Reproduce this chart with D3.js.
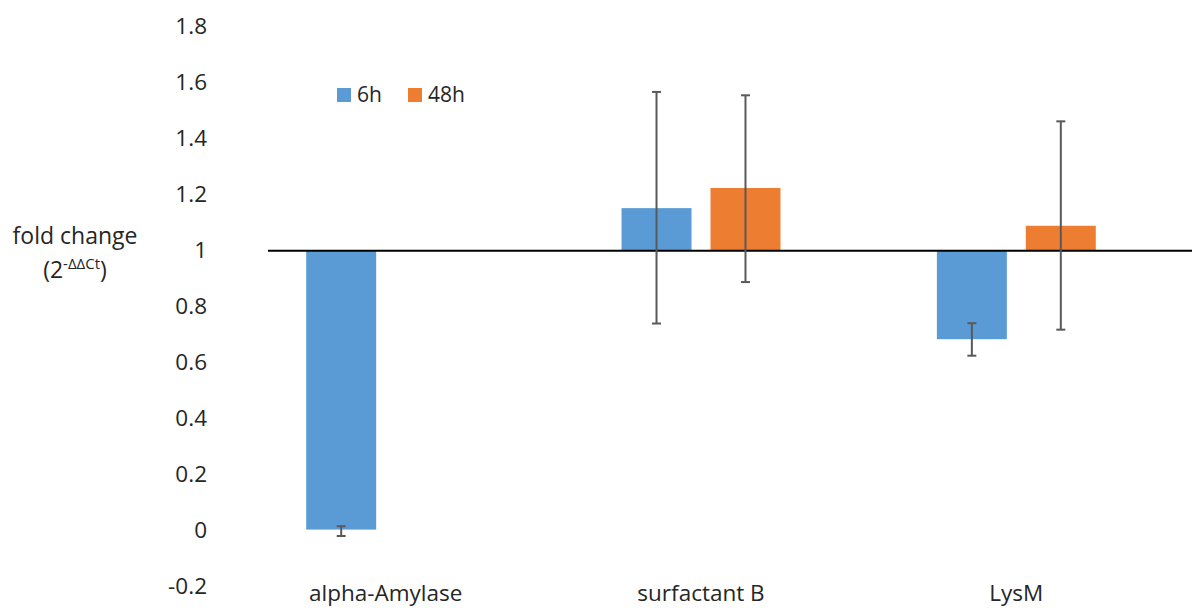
<!DOCTYPE html>
<html lang="en">
<head>
    <meta charset="UTF-8">
    <title>Fold change bar chart</title>
    <script src="https://d3js.org/d3.v7.min.js"></script>
    <style>
        body { margin: 0; background: #fff; }
        svg { display: block; }
        text { font-family: "Open Sans", sans-serif; fill: #262626; }
    </style>
</head>
<body>
    <div id="chart"></div>

    <script>
        // data
        const genes = ["alpha-Amylase", "surfactant B", "LysM"];
        const series = ["6h", "48h"];
        const values6h = [0.004, 1.152, 0.684];
        const values48h = [null, 1.224, 1.089];
        const errLow6h = [-0.019, 0.74, 0.625];
        const errHigh6h = [0.016, 1.567, 0.741];
        const errLow48h = [null, 0.888, 0.718];
        const errHigh48h = [null, 1.555, 1.462];
        const yTicks = [-0.2, 0, 0.2, 0.4, 0.6, 0.8, 1, 1.2, 1.4, 1.6, 1.8];

        const width = 1192;
        const height = 610;
        const colors = { "6h": "#5B9BD5", "48h": "#ED7D31" };
        const baseValue = 1;

        const svg = d3.select("#chart")
            .append("svg")
            .attr("width", width)
            .attr("height", height);

        const y = d3.scaleLinear()
            .domain([-0.2, 1.8])
            .range([586.7, 26.7]);

        const x0 = d3.scaleBand()
            .domain(genes)
            .range([228, 1174])
            .paddingInner(0.496)
            .paddingOuter(0.248);

        const x1 = d3.scaleBand()
            .domain(series)
            .range([0, x0.bandwidth()])
            .paddingInner(0.2135);

        // rows for each bar
        const rows = [];
        genes.forEach((g, i) => {
            rows.push({ gene: g, key: "6h", value: values6h[i], lo: errLow6h[i], hi: errHigh6h[i] });
            rows.push({ gene: g, key: "48h", value: values48h[i], lo: errLow48h[i], hi: errHigh48h[i] });
        });
        const bars = rows.filter(d => d.value !== null);

        // y axis labels only
        const yAxis = svg.append("g")
            .attr("transform", "translate(207,0)")
            .call(d3.axisLeft(y).tickValues(yTicks).tickSize(0).tickPadding(0)
                .tickFormat(d => String(+d.toFixed(1))));
        yAxis.select(".domain").remove();
        yAxis.selectAll("text")
            .style("font-family", "'Open Sans', sans-serif")
            .style("font-size", "22.5px")
            .attr("fill", "#262626");

        // bars from baseline 1
        svg.append("g").selectAll("rect")
            .data(bars)
            .enter()
            .append("rect")
            .attr("x", d => x0(d.gene) + x1(d.key))
            .attr("width", x1.bandwidth())
            .attr("y", d => y(Math.max(d.value, baseValue)))
            .attr("height", d => Math.abs(y(d.value) - y(baseValue)))
            .attr("fill", d => colors[d.key]);

        // baseline
        svg.append("line")
            .attr("x1", 268)
            .attr("x2", width)
            .attr("y1", y(baseValue))
            .attr("y2", y(baseValue))
            .attr("stroke", "#000")
            .attr("stroke-width", 2);

        // error bars
        const err = svg.append("g")
            .attr("stroke", "#595959")
            .attr("stroke-width", 2);
        const cx = d => x0(d.gene) + x1(d.key) + x1.bandwidth() / 2;
        err.selectAll(".stem")
            .data(bars)
            .enter()
            .append("line")
            .attr("x1", cx).attr("x2", cx)
            .attr("y1", d => y(d.lo)).attr("y2", d => y(d.hi));
        ["lo", "hi"].forEach(k => {
            err.selectAll(".cap-" + k)
                .data(bars)
                .enter()
                .append("line")
                .attr("x1", d => cx(d) - 4.5).attr("x2", d => cx(d) + 4.5)
                .attr("y1", d => y(d[k])).attr("y2", d => y(d[k]));
        });

        // category labels
        svg.append("g").selectAll("text")
            .data(genes)
            .enter()
            .append("text")
            .attr("x", d => x0(d) + x0.bandwidth() / 2)
            .attr("y", 601)
            .attr("text-anchor", "middle")
            .style("font-size", "22.5px")
            .text(d => d);

        // y title
        svg.append("text")
            .attr("x", 75)
            .attr("y", 244)
            .attr("text-anchor", "middle")
            .style("font-size", "23px")
            .text("fold change");
        const sub = svg.append("text")
            .attr("x", 75)
            .attr("y", 278)
            .attr("text-anchor", "middle")
            .style("font-size", "23px");
        sub.append("tspan").text("(2");
        sub.append("tspan").attr("dy", -9).style("font-size", "15px").text("-ΔΔCt");
        sub.append("tspan").attr("dy", 9).text(")");

        // legend
        const legend = svg.append("g").attr("transform", "translate(337,88)");
        const legendX = d3.scaleOrdinal().domain(series).range([0, 71]);
        const item = legend.selectAll("g")
            .data(series)
            .enter()
            .append("g")
            .attr("transform", d => `translate(${legendX(d)},0)`);
        item.append("rect")
            .attr("width", 14)
            .attr("height", 14)
            .attr("fill", d => colors[d]);
        item.append("text")
            .attr("x", 20)
            .attr("y", 14)
            .style("font-size", "21px")
            .text(d => d);
    </script>
</body>
</html>
